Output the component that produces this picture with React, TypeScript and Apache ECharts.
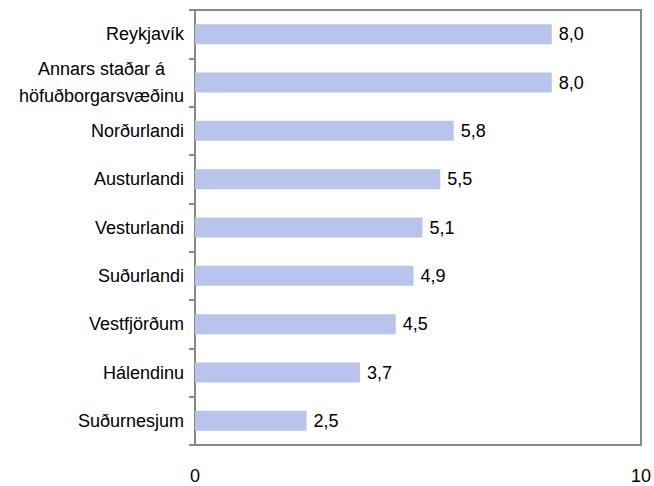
import React, { useEffect, useRef } from "react";
import * as echarts from "echarts";

const categories = [
  "Reykjavík",
  "Annars staðar á\nhöfuðborgarsvæðinu",
  "Norðurlandi",
  "Austurlandi",
  "Vesturlandi",
  "Suðurlandi",
  "Vestfjörðum",
  "Hálendinu",
  "Suðurnesjum",
];
const values = [8.0, 8.0, 5.8, 5.5, 5.1, 4.9, 4.5, 3.7, 2.5];
const axisMin = 0;
const axisMax = 10;

const FONT = "'Liberation Sans', Arial, sans-serif";

export default function App() {
  const ref = useRef<HTMLDivElement>(null);
  useEffect(() => {
    if (!ref.current) return;
    const chart = echarts.init(ref.current, null, { renderer: "svg" });
    chart.setOption({
      animation: false,
      backgroundColor: "#ffffff",
      textStyle: { fontFamily: FONT },
      grid: {
        left: 195,
        top: 10,
        width: 446,
        height: 435,
        show: true,
        borderColor: "#888888",
        borderWidth: 2,
        containLabel: false,
      },
      xAxis: {
        type: "value",
        min: axisMin,
        max: axisMax,
        interval: 10,
        axisLine: { show: false },
        axisTick: { show: false },
        splitLine: { show: false },
        axisLabel: {
          margin: 22,
          fontSize: 18,
          color: "#000000",
          fontFamily: FONT,
          formatter: (v: number) => String(v),
        },
      },
      yAxis: {
        type: "category",
        data: categories,
        inverse: true,
        axisLine: { show: true, lineStyle: { color: "#888888", width: 2 } },
        axisTick: { show: true, length: 6, lineStyle: { color: "#888888", width: 2 } },
        axisLabel: {
          margin: 11,
          fontSize: 18,
          color: "#000000",
          fontFamily: FONT,
          lineHeight: 27,
          align: "right",
          formatter: (v: string) =>
            v
              .split("\n")
              .map((line) => "{c|" + line + "}")
              .join("\n"),
          rich: {
            c: {
              align: "center",
              fontSize: 18,
              lineHeight: 27,
              color: "#000000",
              fontFamily: FONT,
            },
          },
        },
      },
      series: [
        {
          type: "bar",
          data: values,
          barWidth: 20,
          itemStyle: { color: "#B8C4EC" },
          label: {
            show: true,
            position: "right",
            distance: 7,
            fontSize: 18,
            color: "#000000",
            fontFamily: FONT,
            formatter: (p: any) => Number(p.value).toFixed(1).replace(".", ","),
          },
        },
      ],
    });
    return () => chart.dispose();
  }, []);
  return (
    <div
      ref={ref}
      style={{ position: "absolute", left: 0, top: 0, width: 654, height: 486 }}
    />
  );
}
